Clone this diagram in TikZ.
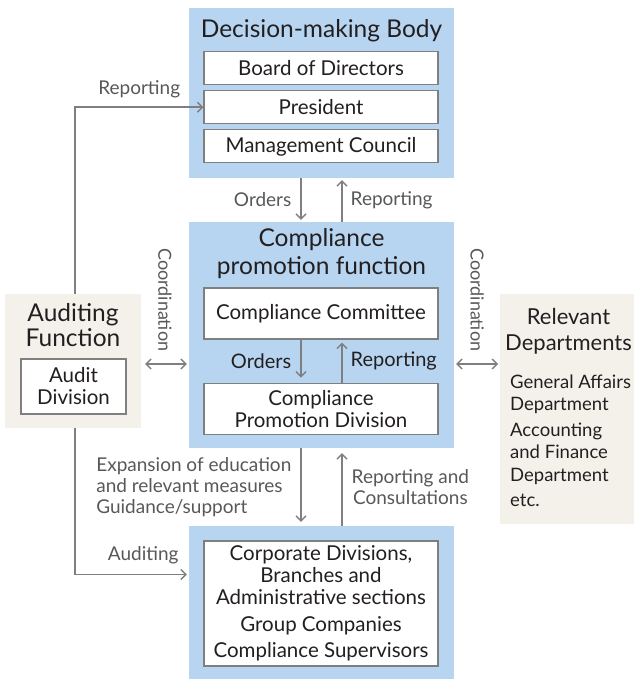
\documentclass[tikz,border=0pt]{standalone}
\usepackage{fontspec}
\setmainfont{Lato}
\usepackage{tikz}
\usetikzlibrary{arrows.meta,positioning}
\definecolor{cmpBlue}{HTML}{B7D5F0}
\definecolor{cmpBeige}{HTML}{F4F1EB}
\definecolor{cmpLine}{HTML}{7F7F7F}
\definecolor{cmpText}{HTML}{231F20}
\definecolor{cmpGrey}{HTML}{595757}
\tikzset{
  panel/.style={rectangle,fill=cmpBlue,inner sep=0pt},
  sidepanel/.style={rectangle,fill=cmpBeige,inner sep=0pt},
  member/.style={rectangle,draw=cmpLine,line width=1.2pt,fill=white,
    minimum width=234pt,align=center,inner sep=0pt,
    font=\fontsize{20.5}{22}\selectfont,text=cmpText},
  heading/.style={align=center,inner sep=0pt,
    font=\fontsize{24.5}{26}\selectfont,text=cmpText},
  arrow/.style={-{Straight Barb[length=5pt,width=10pt]},line width=1.4pt,draw=cmpLine},
  twoway/.style={{Straight Barb[length=5pt,width=10pt]}-{Straight Barb[length=5pt,width=10pt]},
    line width=1.4pt,draw=cmpLine},
  flowlabel/.style={inner sep=0pt,font=\fontsize{19}{21}\selectfont,text=cmpGrey},
  innerlabel/.style={inner sep=0pt,font=\fontsize{20}{21}\selectfont,text=cmpText}
}

\begin{document}
\begin{tikzpicture}[x=1pt,y=-1pt]
\useasboundingbox (0,0) rectangle (634,679);

% decision-making body
\node[panel, minimum width=265pt, minimum height=170pt] (dmb) at (321.5,93) {};
\node[heading] (dmbt) at (321.5,31) {Decision-making Body};
\node[member, minimum height=33pt] (bod) at (321,68) {Board of Directors};
\node[member, minimum height=33pt, below=5pt of bod] (pres) {President};
\node[member, minimum height=33pt, below=5pt of pres] (mc) {Management Council};

% compliance promotion function
\node[panel, minimum width=265pt, minimum height=226pt] (cpf) at (321.5,335) {};
\node[heading, font=\fontsize{24.5}{28}\selectfont] (cpft) at (321.5,254) {Compliance\\promotion function};
\node[member, minimum height=51pt] (cc) at (321,313.5) {Compliance Committee};
\node[member, minimum height=51pt, below=43pt of cc] (cpd) {Compliance\\Promotion Division};

% divisions and group companies
\node[panel, minimum width=265pt, minimum height=153pt] (grp) at (321.5,602.5) {};
\node[member, minimum height=125pt] (units) at (321,603.5)
  {Corporate Divisions,\\Branches and\\Administrative sections\\[5pt]Group Companies\\[4pt]Compliance Supervisors};

% auditing function
\node[sidepanel, minimum width=136pt, minimum height=134pt] (aud) at (73,361) {};
\node[heading, font=\fontsize{24.5}{24.5}\selectfont] (audt) at (73,325) {Auditing\\Function};
\node[member, minimum width=105pt, minimum height=55pt] (adiv) at (73.5,386.5) {Audit\\Division};

% relevant departments
\node[sidepanel, minimum width=134pt, minimum height=230pt, anchor=north west] (rel) at (500,294) {};
\node[heading, font=\fontsize{22}{26}\selectfont] (relt) at (568.5,331) {Relevant\\Departments};
\node[anchor=west, align=left, inner sep=0pt, font=\fontsize{18.5}{22.5}\selectfont, text=cmpText] (reldep) at (510,441)
  {General Affairs\\Department\\[3pt]Accounting\\and Finance\\Department\\[3pt]etc.};

\coordinate (down) at (301,0);
\coordinate (up) at (342,0);
\coordinate (coordrow) at (0,364);

\draw[arrow, shorten >=2pt] (dmb.south -| down) -- (cpf.north -| down)
  node[flowlabel, midway, left=9pt] {Orders};
\draw[arrow, shorten >=2pt] (cpf.north -| up) -- (dmb.south -| up)
  node[flowlabel, midway, right=8pt] {Reporting};
\draw[arrow, shorten >=5pt] (cc.south -| down) -- (cpd.north -| down)
  node[innerlabel, midway, left=9pt] {Orders};
\draw[arrow, shorten >=3pt] (cpd.north -| up) -- (cc.south -| up)
  node[innerlabel, midway, right=8pt] {Reporting};
\draw[arrow, shorten >=4pt] (cpf.south -| down) -- (grp.north -| down)
  node[flowlabel, midway, left=9pt, align=left] {Expansion of education\\and relevant measures\\Guidance/support};
\draw[arrow, shorten >=5pt] (grp.north -| up) -- (cpf.south -| up)
  node[flowlabel, midway, right=9pt, align=center] {Reporting and\\Consultations};

\draw[arrow] ([xshift=2pt]aud.north) |- (pres.west)
  node[flowlabel, pos=0.75, above=9pt] {Reporting};
\draw[arrow, shorten >=2pt] ([xshift=2pt]aud.south) |- ([yshift=28pt]grp.west)
  node[flowlabel, pos=0.8, above=10pt] {Auditing};

\draw[twoway, shorten <=4pt, shorten >=2pt] (aud.east |- coordrow) -- (cpf.west |- coordrow)
  node[flowlabel, font=\fontsize{18}{21}\selectfont, midway, yshift=12pt, rotate=-90, anchor=east] {Coordination};
\draw[twoway, shorten <=2pt, shorten >=2pt] (cpf.east |- coordrow) -- (rel.west |- coordrow)
  node[flowlabel, font=\fontsize{18}{21}\selectfont, midway, yshift=12pt, rotate=-90, anchor=east] {Coordination};
\end{tikzpicture}
\end{document}
